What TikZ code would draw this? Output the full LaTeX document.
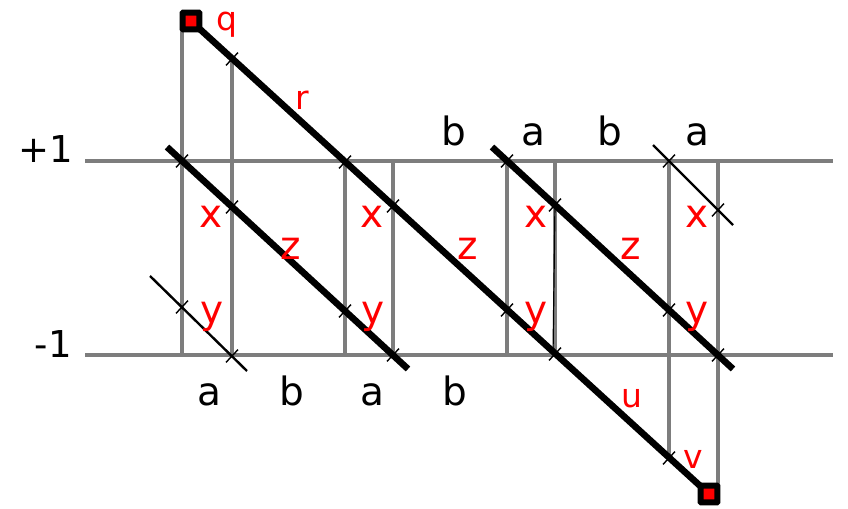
\documentclass[tikz,border=0pt]{standalone}
\usepackage{fontspec}
\setmainfont{DejaVu Sans}
\usetikzlibrary{calc}

\definecolor{railgray}{RGB}{125,125,125}
\newcommand{\tickon}[1]{\draw[tickline] ($(#1)+(6.0,-6.4)$) -- ($(#1)-(6.0,-6.4)$);}

\begin{document}
\begin{tikzpicture}[x=0.5pt, y=-0.5pt,
  rail/.style={draw=railgray, line width=1.6pt},
  world/.style={line width=3.3pt},
  thinworld/.style={line width=1.2pt},
  tickline/.style={line width=0.7pt},
  redbig/.style={red, font=\fontsize{19.5}{22}\selectfont, inner sep=0pt, anchor=base},
  redsmall/.style={red, font=\fontsize{16.5}{19}\selectfont, inner sep=0pt, anchor=base},
  letter/.style={font=\fontsize{19.5}{22}\selectfont, inner sep=0pt, anchor=base},
  endpt/.style={rectangle, draw=black, line width=3pt, fill=red, minimum size=8.4pt,
    inner sep=0pt, rounded corners=0.3pt}]
  \useasboundingbox (0,0) rectangle (848,509);

  \coordinate (PL) at (85,161);  \coordinate (PR) at (833,161);
  \coordinate (ML) at (85,355);  \coordinate (MR) at (833,355);

  % long world line
  \coordinate (Q) at (191,21);
  \coordinate (R1) at (232,59);
  \coordinate (R2) at (345,162);
  \coordinate (R3) at (393,206);
  \coordinate (R4) at (507,310);
  \coordinate (R5) at (555,354);
  \coordinate (R6) at (669,458);
  \coordinate (E) at (709,494);

  \coordinate (A0) at (167,147); \coordinate (A1) at (182,161); \coordinate (A2) at (232,207);
  \coordinate (A3) at (345,311); \coordinate (A4) at (393,355); \coordinate (A5) at (408,369);
  \coordinate (B0) at (492,147); \coordinate (B1) at (507,161); \coordinate (B2) at (555,205);
  \coordinate (B3) at (669,310); \coordinate (B4) at (718,355); \coordinate (B5) at (733,369);
  \coordinate (C0) at (150,276); \coordinate (C1) at (182,307); \coordinate (C2) at (232,356);
  \coordinate (C3) at (247,371);
  \coordinate (D0) at (653,145); \coordinate (D1) at (669,161); \coordinate (D2) at (718,210);
  \coordinate (D3) at (733,225);

  \draw[rail] (PL) -- (PR);
  \draw[rail] (ML) -- (MR);

  \draw[rail] (182,21) -- (182,355);
  \draw[rail] (R1) -- (232,355);
  \draw[rail] (345,161) -- (345,355);
  \draw[rail] (393,161) -- (393,355);
  \draw[rail] (507,161) -- (507,355);
  \draw[rail] (555,161) -- (555,355);
  \draw[rail] (669,161) -- (R6);
  \draw[rail] (718,161) -- (718,494);
  \draw[line width=0.6pt] (B2) -- (553,355);

  \draw[world] (Q) -- (E);
  \draw[world] (A0) -- (A5);
  \draw[world] (B0) -- (B5);
  \draw[thinworld] (C0) -- (C3);
  \draw[thinworld] (D0) -- (D3);

  \tickon{R1} \tickon{R2} \tickon{R3} \tickon{R4} \tickon{R5} \tickon{R6}
  \tickon{A1} \tickon{A2} \tickon{A3} \tickon{A4}
  \tickon{B1} \tickon{B2} \tickon{B3} \tickon{B4}
  \tickon{C1} \tickon{C2} \tickon{D1} \tickon{D2}

  \node[endpt] (q) at (Q) {};
  \node[endpt] (e) at (E) {};

  \node[letter, font=\fontsize{18.5}{21}\selectfont, anchor=base east] (p1) at (73,162) {+1};
  \node[letter, font=\fontsize{18.5}{21}\selectfont, anchor=base east] (m1) at (72,357) {-1};

  \node[redsmall] (lq) at (227,30) {q};
  \node[redsmall] (lr) at (302,109) {r};
  \node[redsmall] (lu) at (632,407) {u};
  \node[redsmall] (lv) at (693,468) {v};

  \node[redbig] (x1) at (211,227) {x};
  \node[redbig] (x2) at (372,227) {x};
  \node[redbig] (x3) at (536,227) {x};
  \node[redbig] (x4) at (697,227) {x};
  \node[redbig] (y1) at (212,323) {y};
  \node[redbig] (y2) at (373,323) {y};
  \node[redbig] (y3) at (536,323) {y};
  \node[redbig] (y4) at (697,323) {y};
  \node[redbig] (z1) at (291,259) {z};
  \node[redbig] (z2) at (468,259) {z};
  \node[redbig] (z3) at (631,259) {z};

  \node[letter] (tb1) at (454,145) {b};
  \node[letter] (ta1) at (533,145) {a};
  \node[letter] (tb2) at (610,145) {b};
  \node[letter] (ta2) at (697,145) {a};
  \node[letter] (ba1) at (209,405) {a};
  \node[letter] (bb1) at (292,405) {b};
  \node[letter] (ba2) at (372,405) {a};
  \node[letter] (bb2) at (455,405) {b};
\end{tikzpicture}
\end{document}
